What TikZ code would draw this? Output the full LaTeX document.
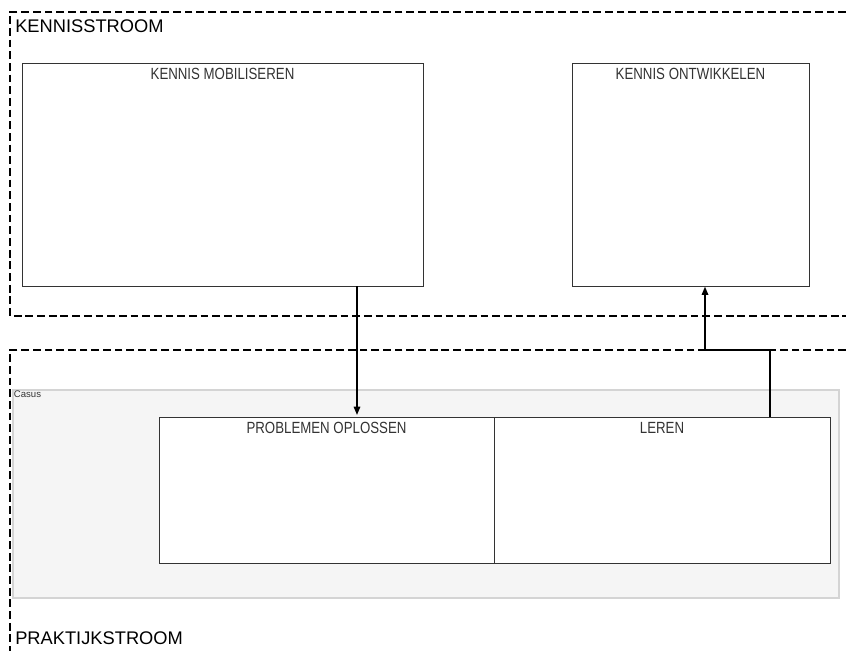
\documentclass[tikz,border=0pt]{standalone}
\usepackage{fontspec}
\setmainfont{Liberation Sans}
\usepackage{xcolor}
\usepackage{tikz}
\usetikzlibrary{positioning, arrows.meta, fit}

\definecolor{casusfill}{HTML}{F5F5F5}
\definecolor{casusline}{HTML}{D4D4D4}
\definecolor{boxline}{HTML}{333333}
\newcommand{\smalltitle}[1]{\scalebox{0.82}[1]{\fontsize{11.5}{13}\selectfont #1}}

\begin{document}
\begin{tikzpicture}[
        x=0.025cm, y=-0.025cm,
        stream_style/.style={line width=1.4pt, dash pattern=on 5.5pt off 2.8pt},
        box_style/.style={draw=boxline, fill=white, line width=0.7pt, inner sep=0pt},
        casus_style/.style={draw=casusline, fill=casusfill, line width=1pt, inner sep=0pt},
        title_style/.style={text=boxline, inner sep=0pt, anchor=base},
        stream_label/.style={font=\fontsize{13}{15}\selectfont, inner sep=0pt, anchor=base west},
        arrow_style/.style={line width=1.4pt, -{Triangle[length=6pt, width=4.5pt]}}
    ]
        \useasboundingbox (0,0) rectangle (846,650);

        % Corners
        \coordinate (mob_tl) at (22,63);
        \coordinate (mob_br) at (423,286);
        \coordinate (ont_tl) at (572,63);
        \coordinate (ont_br) at (809,286);
        \coordinate (cas_tl) at (13,390);
        \coordinate (cas_br) at (839,598);
        \coordinate (prob_tl) at (159,417);
        \coordinate (prob_br) at (494,563);
        \coordinate (ler_tl) at (494,417);
        \coordinate (ler_br) at (830,563);
        \coordinate (down_x) at (357,0);
        \coordinate (up_a) at (770,350);
        \coordinate (up_b) at (705,350);

        % Dashed streams
        \draw[stream_style] (846,12) -- (10,12) -- (10,316) -- (846,316);
        \draw[stream_style] (846,350) -- (10,350) -- (10,652);
        \node[stream_label] (kennis) at (15,32.5) {KENNISSTROOM};
        \node[stream_label] (praktijk) at (15,644) {PRAKTIJKSTROOM};

        % Boxes
        \node[box_style, fit=(mob_tl) (mob_br)] (mob) {};
        \node[box_style, fit=(ont_tl) (ont_br)] (ont) {};
        \node[casus_style, fit=(cas_tl) (cas_br)] (casus) {};
        \node[anchor=north west, inner sep=1pt, font=\fontsize{6.8}{8}\selectfont, text=boxline] (casus_label) at (casus.north west) {Casus};
        \node[box_style, fit=(prob_tl) (prob_br)] (prob) {};
        \node[box_style, fit=(ler_tl) (ler_br)] (ler) {};

        % Titles
        \node[title_style] (mob_title) at ([yshift=-12.4pt]mob.north) {\smalltitle{KENNIS MOBILISEREN}};
        \node[title_style] (ont_title) at ([yshift=-12.4pt]ont.north) {\smalltitle{KENNIS ONTWIKKELEN}};
        \node[title_style] (prob_title) at ([yshift=-12.4pt]prob.north) {\smalltitle{PROBLEMEN OPLOSSEN}};
        \node[title_style] (ler_title) at ([yshift=-12.4pt]ler.north) {\smalltitle{LEREN}};

        % Arrows
        \draw[arrow_style] (mob.south -| down_x) -- ([yshift=1pt]prob.north -| down_x);
        \draw[arrow_style] (ler.north -| up_a) -- (up_a) -- (up_b) -- (ont.south -| up_b);
    \end{tikzpicture}
\end{document}
